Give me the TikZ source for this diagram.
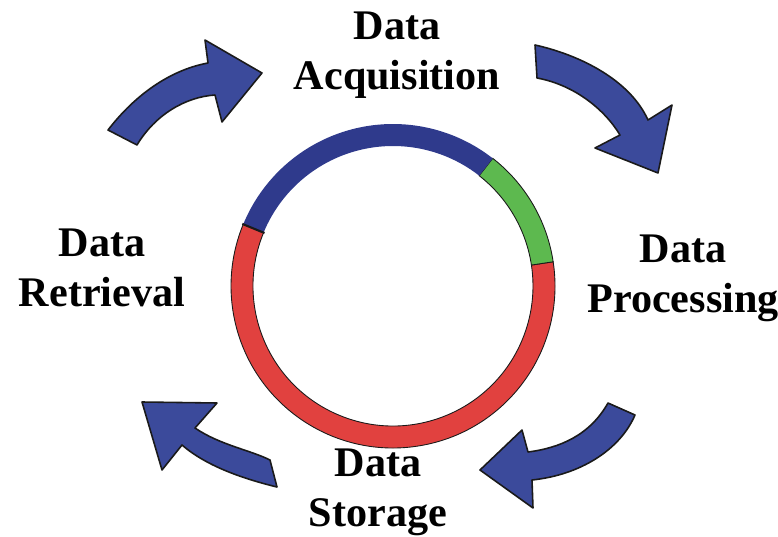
\documentclass[tikz,border=0pt]{standalone}
\usepackage{fontspec}
\setmainfont{Liberation Serif}
\usepackage{tikz}
\definecolor{arrowblue}{HTML}{3B4A9B}
\definecolor{ringblue}{HTML}{2F3A8C}
\definecolor{ringgreen}{HTML}{5DB94F}
\definecolor{ringred}{HTML}{E1413F}
\definecolor{edge}{HTML}{1A1A1A}
\tikzset{
  cyclearrow/.style={fill=arrowblue, draw=edge, line width=0.9pt, line join=round},
  seg/.style={draw=edge, line width=0.5pt},
  lab/.style={align=center, font=\fontsize{24}{28.5}\selectfont\bfseries, inner sep=0pt},
}
% annular piece of the ring: colour, start angle, end angle
\newcommand\ringseg[3]{%
  \path[seg, fill=#1] (#2:162) arc[start angle=#2, end angle=#3, radius=162]
    -- (#3:140) arc[start angle=#3, end angle=#2, radius=140] -- cycle;}

\begin{document}
\begin{tikzpicture}[x=0.02cm, y=-0.02cm]
  \useasboundingbox (0,0) rectangle (778,537);

  % ring (y axis points down, so angles run clockwise)
  \begin{scope}[shift={(393,286)}]
    \ringseg{ringred}{-8.6}{202.4}
    \ringseg{ringgreen}{-8.6}{-52}
    \fill[ringblue] (-52:162) arc[start angle=-52, end angle=-157.6, radius=162]
      -- (-157.6:140) arc[start angle=-157.6, end angle=-52, radius=140] -- cycle;
    \draw[edge, line width=1.2pt] (-157.6:139) -- (-157.6:163);
  \end{scope}

  % curved arrows between the stages
  \draw[cyclearrow] (108,130) .. controls (135,95) and (170,70) .. (208,63)
    -- (205,40) -- (262,73) -- (222,122) -- (215,95)
    .. controls (185,97) and (155,115) .. (137,145) -- cycle;
  \draw[cyclearrow] (535,45) .. controls (580,55) and (630,80) .. (648,120)
    -- (672,105) -- (658,173) -- (595,148) -- (620,135)
    .. controls (605,110) and (575,85) .. (537,78) -- cycle;
  \draw[cyclearrow] (608,403) .. controls (590,435) and (560,448) .. (528,452)
    -- (522,430) -- (480,470) -- (533,508) -- (532,480)
    .. controls (580,475) and (620,450) .. (635,415) -- cycle;
  \draw[cyclearrow] (142,402) -- (217,403) -- (195,428)
    .. controls (220,445) and (250,450) .. (270,460)
    -- (277,487) .. controls (240,478) and (205,465) .. (182,445)
    -- (162,470) -- cycle;

  % stage names
  \node[lab] (acq) at (397,55) {Data\\Acquisition};
  \node[lab] (proc) at (683,278) {Data\\Processing};
  \node[lab] (stor) at (378,492) {Data\\Storage};
  \node[lab] (retr) at (102,268) {Data\\Retrieval};
\end{tikzpicture}
\end{document}
